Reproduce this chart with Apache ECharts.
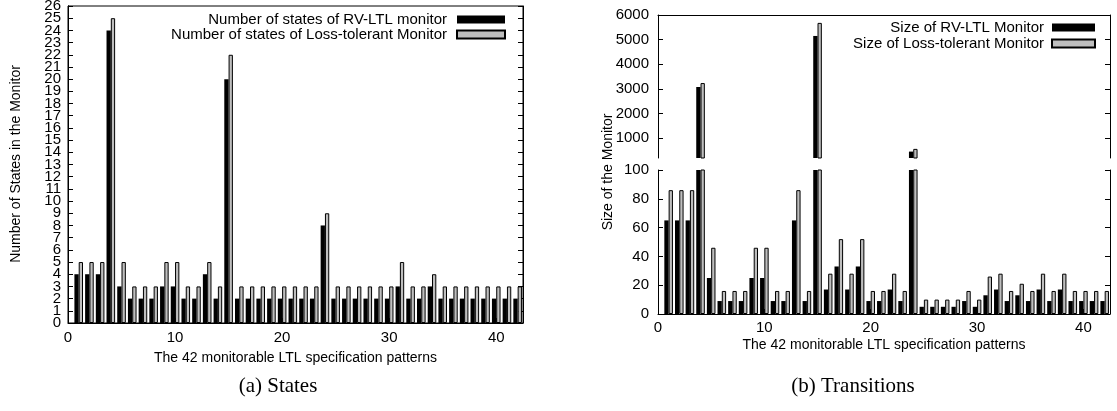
<!DOCTYPE html>
<html>
<head>
<meta charset="utf-8">
<script src="https://cdn.jsdelivr.net/npm/echarts@6/dist/echarts.min.js"></script>
<style>
  html, body { margin: 0; padding: 0; background: #fff; }
  #chart { width: 1117px; height: 411px; }
</style>
</head>
<body>
<div id="chart"></div>
<script>
// 42 个可监控的 LTL 模式
const patterns = [1, 2, 3, 4, 5, 6, 7, 8, 9, 10, 11, 12, 13, 14, 15, 16, 17, 18, 19, 20, 21,
    22, 23, 24, 25, 26, 27, 28, 29, 30, 31, 32, 33, 34, 35, 36, 37, 38, 39, 40, 41, 42];

// (a) 状态数
const statesRv = [4, 4, 4, 24, 3, 2, 2, 2, 3, 3, 2, 2, 4, 2, 20, 2, 2, 2, 2, 2, 2,
    2, 2, 8, 2, 2, 2, 2, 2, 2, 3, 2, 2, 3, 2, 2, 2, 2, 2, 2, 2, 2];
const statesLt = [5, 5, 5, 25, 5, 3, 3, 3, 5, 5, 3, 3, 5, 3, 22, 3, 3, 3, 3, 3, 3,
    3, 3, 9, 3, 3, 3, 3, 3, 3, 5, 3, 3, 4, 3, 3, 3, 3, 3, 3, 3, 3];

// (b) 迁移数 (监视器大小)
const sizeRv = [65, 65, 65, 3080, 25, 9, 9, 9, 25, 25, 9, 9, 65, 9, 5150, 17, 33, 17, 33, 9, 9,
    17, 9, 460, 5, 5, 5, 5, 9, 5, 13, 17, 9, 13, 9, 17, 9, 17, 9, 9, 9, 9];
const sizeLt = [86, 86, 86, 3240, 46, 16, 16, 16, 46, 46, 16, 16, 86, 16, 5680, 28, 52, 28, 52, 16, 16,
    28, 16, 570, 10, 10, 10, 10, 16, 10, 26, 28, 16, 21, 16, 28, 16, 28, 16, 16, 16, 16];

// 刻度
const xTicks = [0, 10, 20, 30, 40];
const stateTicks = [0, 1, 2, 3, 4, 5, 6, 7, 8, 9, 10, 11, 12, 13, 14, 15, 16, 17, 18, 19, 20,
    21, 22, 23, 24, 25, 26];
const upperTicks = [1000, 2000, 3000, 4000, 5000, 6000];

// 标签太挤，ECharts 会藏掉首尾旁边那个，所以奇偶分两根轴画
const evenTicks = stateTicks.filter(v => v % 2 === 0);
const oddTicks = stateTicks.filter(v => v % 2 === 1);

const pairs = vals => patterns.map((p, i) => [p, vals[i]]);

const FONT = 'Liberation Sans';
const black = { color: '#000' };
const gray = { color: '#bebebe', borderColor: '#000', borderWidth: 1 };
const line = { show: true, lineStyle: { color: '#000', width: 1 } };
const noSplit = { show: false };
const plain = v => String(v);

const xBase = (grid, extra) => Object.assign({
    type: 'value', gridIndex: grid, min: 0, max: 42.5,
    axisLine: line, splitLine: noSplit,
    axisTick: { show: false }, axisLabel: { show: false }
}, extra);

const yBase = (grid, extra) => Object.assign({
    type: 'value', gridIndex: grid,
    axisLine: line, splitLine: noSplit,
    axisTick: { show: true, inside: true, length: 5, lineStyle: { color: '#000' } },
    axisLabel: { show: false }
}, extra);

const tick = custom => ({ show: true, inside: true, length: 5, customValues: custom, lineStyle: { color: '#000' } });

const yLabel = (margin, custom) => ({
    show: true, margin: margin, customValues: custom, formatter: plain,
    showMinLabel: true, showMaxLabel: true, hideOverlap: false,
    color: '#000', fontFamily: FONT, fontSize: 15
});

const xLabelled = (grid, margin, name, gap) => xBase(grid, {
    position: 'bottom',
    axisTick: tick(xTicks),
    axisLabel: { show: true, margin: margin, customValues: xTicks, formatter: plain,
        showMinLabel: true, color: '#000', fontFamily: FONT, fontSize: 15 },
    name: name, nameLocation: 'middle', nameGap: gap,
    nameTextStyle: { color: '#000', fontFamily: FONT, fontSize: 14, verticalAlign: 'top' }
});

const barSeries = (name, x, y, data, style) => ({
    name: name, type: 'bar', xAxisIndex: x, yAxisIndex: y,
    barWidth: 4.3, barGap: '0%', clip: true,
    itemStyle: style, data: data, animation: false
});

const chart = echarts.init(document.getElementById('chart'));

chart.setOption({
    backgroundColor: '#fff',
    animation: false,
    grid: [
        { left: 68, top: 6, width: 455, height: 317, show: true, borderColor: '#000', borderWidth: 1, backgroundColor: 'transparent', outerBoundsMode: 'none' },
        { left: 658, top: 15, width: 452, height: 143, outerBoundsMode: 'none' },
        { left: 658, top: 170, width: 452, height: 144, outerBoundsMode: 'none' }
    ],
    xAxis: [
        xLabelled(0, 7, 'The 42 monitorable LTL specification patterns', 28),
        xBase(1, { position: 'top' }),
        xLabelled(2, 6, 'The 42 monitorable LTL specification patterns', 24)
    ],
    yAxis: [
        yBase(0, { position: 'left', min: 0, max: 26, axisTick: tick(evenTicks), axisLabel: yLabel(7, evenTicks) }),
        yBase(0, { position: 'left', offset: 0, min: 0, max: 26, axisTick: tick(oddTicks), axisLabel: yLabel(7, oddTicks) }),
        yBase(0, { position: 'right', min: 0, max: 26, interval: 1 }),
        yBase(1, { position: 'left', min: 200, max: 6000, axisTick: tick(upperTicks), axisLabel: yLabel(9, upperTicks) }),
        yBase(1, { position: 'right', min: 200, max: 6000, axisTick: tick(upperTicks) }),
        yBase(2, { position: 'left', min: 0, max: 100, interval: 20, axisLabel: yLabel(9) }),
        yBase(2, { position: 'right', min: 0, max: 100, interval: 20 })
    ],
    legend: [
        {
            data: ['Number of states of RV-LTL monitor', 'Number of states of Loss-tolerant Monitor'],
            orient: 'vertical', align: 'right', right: 611, top: 12, padding: 0,
            itemWidth: 48, itemHeight: 8, itemGap: 0, icon: 'rect',
            textStyle: { color: '#000', fontFamily: FONT, fontSize: 15, lineHeight: 14, padding: [0, 5, 0, 0] }
        },
        {
            data: ['Size of RV-LTL Monitor', 'Size of Loss-tolerant Monitor'],
            orient: 'vertical', align: 'right', right: 21, top: 20, padding: 0,
            itemWidth: 43, itemHeight: 8, itemGap: 1, icon: 'rect',
            textStyle: { color: '#000', fontFamily: FONT, fontSize: 15, lineHeight: 14, padding: [0, 3, 0, 0] }
        }
    ],
    graphic: [
        { type: 'text', x: 16, y: 164, rotation: Math.PI / 2,
          style: { text: 'Number of States in the Monitor', fill: '#000', font: '14px "Liberation Sans"', align: 'center', verticalAlign: 'middle' } },
        { type: 'text', x: 608, y: 172, rotation: Math.PI / 2,
          style: { text: 'Size of the Monitor', fill: '#000', font: '14px "Liberation Sans"', align: 'center', verticalAlign: 'middle' } },
        { type: 'text', x: 278, y: 386,
          style: { text: '(a) States', fill: '#000', font: '21px "Liberation Serif"', align: 'center', verticalAlign: 'middle' } },
        { type: 'text', x: 853, y: 386,
          style: { text: '(b) Transitions', fill: '#000', font: '21px "Liberation Serif"', align: 'center', verticalAlign: 'middle' } }
    ],
    series: [
        barSeries('Number of states of RV-LTL monitor', 0, 0, pairs(statesRv), black),
        barSeries('Number of states of Loss-tolerant Monitor', 0, 0, pairs(statesLt), gray),
        barSeries('Size of RV-LTL Monitor', 1, 3, pairs(sizeRv), black),
        barSeries('Size of Loss-tolerant Monitor', 1, 3, pairs(sizeLt), gray),
        barSeries('Size of RV-LTL Monitor', 2, 5, pairs(sizeRv), black),
        barSeries('Size of Loss-tolerant Monitor', 2, 5, pairs(sizeLt), gray)
    ]
});

window.addEventListener('resize', () => {
    chart.resize();
});
</script>
</body>
</html>
